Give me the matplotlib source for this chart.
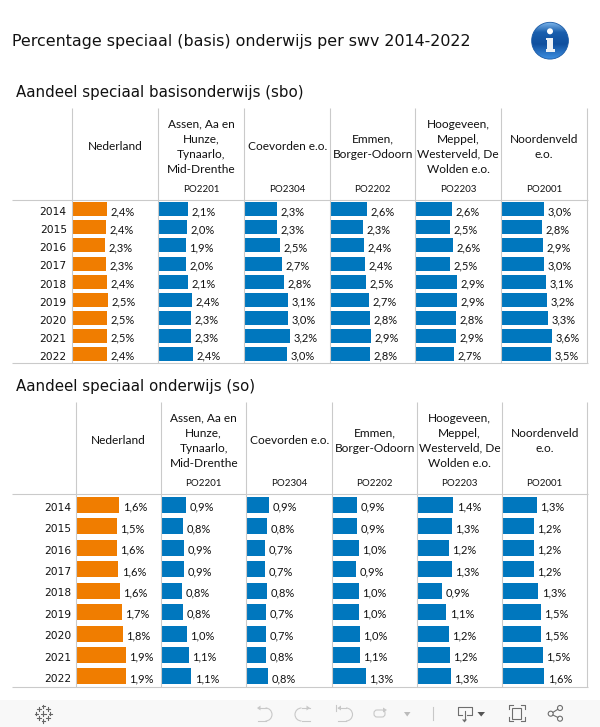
import numpy as np
import matplotlib
matplotlib.use("Agg")
import matplotlib.pyplot as plt
from matplotlib.patches import Circle, Rectangle, Polygon, Arc, FancyBboxPatch

W, H = 600, 727
years = ["2014", "2015", "2016", "2017", "2018", "2019", "2020", "2021", "2022"]
columns = ["Nederland", "Assen, Aa en\nHunze,\nTynaarlo,\nMid-Drenthe", "Coevorden e.o.",
           "Emmen,\nBorger-Odoorn", "Hoogeveen,\nMeppel,\nWesterveld, De\nWolden e.o.", "Noordenveld\ne.o."]
codes = ["", "PO2201", "PO2304", "PO2202", "PO2203", "PO2001"]

# aandeel speciaal basisonderwijs (sbo)
sbo_nederland = [2.43, 2.36, 2.29, 2.36, 2.43, 2.50, 2.43, 2.43, 2.43]
sbo_assen = [2.07, 2.00, 1.93, 1.93, 2.07, 2.36, 2.29, 2.29, 2.43]
sbo_coevorden = [2.29, 2.29, 2.50, 2.64, 2.79, 3.07, 3.07, 3.21, 3.00]
sbo_emmen = [2.57, 2.29, 2.36, 2.43, 2.50, 2.71, 2.79, 2.86, 2.79]
sbo_hoogeveen = [2.57, 2.43, 2.64, 2.43, 2.93, 2.93, 2.86, 2.86, 2.71]
sbo_noordenveld = [3.00, 2.86, 2.93, 3.00, 3.14, 3.21, 3.29, 3.57, 3.50]
sbo_labels = [
    ["2,4%", "2,4%", "2,3%", "2,3%", "2,4%", "2,5%", "2,5%", "2,5%", "2,4%"],
    ["2,1%", "2,0%", "1,9%", "2,0%", "2,1%", "2,4%", "2,3%", "2,3%", "2,4%"],
    ["2,3%", "2,3%", "2,5%", "2,7%", "2,8%", "3,1%", "3,0%", "3,2%", "3,0%"],
    ["2,6%", "2,3%", "2,4%", "2,4%", "2,5%", "2,7%", "2,8%", "2,9%", "2,8%"],
    ["2,6%", "2,5%", "2,6%", "2,5%", "2,9%", "2,9%", "2,8%", "2,9%", "2,7%"],
    ["3,0%", "2,8%", "2,9%", "3,0%", "3,1%", "3,2%", "3,3%", "3,6%", "3,5%"],
]

# aandeel speciaal onderwijs (so)
so_nederland = [1.62, 1.54, 1.54, 1.58, 1.65, 1.73, 1.77, 1.88, 1.88]
so_assen = [0.92, 0.81, 0.85, 0.85, 0.77, 0.81, 0.96, 1.04, 1.12]
so_coevorden = [0.85, 0.77, 0.69, 0.69, 0.77, 0.73, 0.73, 0.73, 0.81]
so_emmen = [0.92, 0.92, 1.00, 0.88, 1.00, 1.00, 1.04, 1.04, 1.27]
so_hoogeveen = [1.35, 1.31, 1.19, 1.31, 0.92, 1.08, 1.19, 1.23, 1.27]
so_noordenveld = [1.31, 1.19, 1.19, 1.19, 1.35, 1.46, 1.46, 1.54, 1.58]
so_labels = [
    ["1,6%", "1,5%", "1,6%", "1,6%", "1,6%", "1,7%", "1,8%", "1,9%", "1,9%"],
    ["0,9%", "0,8%", "0,9%", "0,9%", "0,8%", "0,8%", "1,0%", "1,1%", "1,1%"],
    ["0,9%", "0,8%", "0,7%", "0,7%", "0,8%", "0,7%", "0,7%", "0,8%", "0,8%"],
    ["0,9%", "0,9%", "1,0%", "0,9%", "1,0%", "1,0%", "1,0%", "1,1%", "1,3%"],
    ["1,4%", "1,3%", "1,2%", "1,3%", "0,9%", "1,1%", "1,2%", "1,2%", "1,3%"],
    ["1,3%", "1,2%", "1,2%", "1,2%", "1,3%", "1,5%", "1,5%", "1,5%", "1,6%"],
]

ORANGE, BLUE, RULE, TXT = "#F07D00", "#0077BE", "#CACACA", "#111111"
CELL = ["Lato"]
TITLE = ["DejaVu Sans"]

fig = plt.figure(figsize=(W / 100, H / 100), dpi=100, facecolor="white")
ov = fig.add_axes([0, 0, 1, 1], zorder=5)
ov.set_xlim(0, W); ov.set_ylim(H, 0); ov.axis("off"); ov.patch.set_alpha(0)


def section(title, title_y, series, labels, vx, top, head, bottom, px_per, year_x, hl, po_y, bar_h):
    ov.text(16, title_y, title, family=TITLE, fontsize=10.85, color="#111111", va="center", ha="left")
    for x in vx:
        ov.plot([x, x], [top, bottom], color=RULE, lw=.8, solid_capstyle="butt")
    for y in (head, bottom):
        ov.plot([12, vx[-1] + 0.5], [y, y], color=RULE, lw=.8, solid_capstyle="butt")
    n = len(years)
    pitch = (bottom - head) / n
    for i, yr in enumerate(years):
        ov.text(year_x, head + (i + .5) * pitch + 2.8, yr, family=TITLE, fontsize=7.7,
                color=TXT, ha="right", va="center")
    for c, (vals, labs) in enumerate(zip(series, labels)):
        x0, x1 = vx[c] + 0.7, vx[c + 1] + 0.7
        ax = fig.add_axes([x0 / W, 1 - bottom / H, (x1 - x0) / W, (bottom - head) / H], zorder=3)
        ax.set_xlim(0, (x1 - x0) / px_per); ax.set_ylim(n - .5, -.5); ax.axis("off")
        ax.barh(range(n), vals, height=bar_h, color=ORANGE if c == 0 else BLUE)
        for i, (v, l) in enumerate(zip(vals, labs)):
            ax.annotate(l, (v, i), xytext=(3.6 * .72, -2.2 * .72), textcoords="offset points",
                        family=CELL, fontsize=8.0, color=TXT, va="center", ha="left")
        cx = (vx[c] + vx[c + 1]) / 2
        lines = columns[c].split("\n")
        for j, line in enumerate(lines):
            ov.text(cx, hl + (j - (len(lines) - 1) / 2) * 15, line, family=CELL, fontsize=8.6,
                    color=TXT, ha="center", va="center")
        if codes[c]:
            ov.text(cx, po_y, codes[c], family=CELL, fontsize=7.0, color=TXT, ha="center", va="center")


ov.text(12, 41.7, "Percentage speciaal (basis) onderwijs per swv 2014-2022", family=TITLE,
        fontsize=11.4, color="#111111", va="center", ha="left")

section("Aandeel speciaal basisonderwijs (sbo)", 92.5,
        [sbo_nederland, sbo_assen, sbo_coevorden, sbo_emmen, sbo_hoogeveen, sbo_noordenveld], sbo_labels,
        [72.2, 158.2, 244.2, 330.2, 415.2, 501.2, 587.2], 108, 200.2, 363.2, 14, 66.7, 146.7, 189.7, .773)
section("Aandeel speciaal onderwijs (so)", 386.5,
        [so_nederland, so_assen, so_coevorden, so_emmen, so_hoogeveen, so_noordenveld], so_labels,
        [76.2, 161.2, 246.2, 332.2, 417.2, 502.2, 587.2], 402, 494.2, 687.2, 26, 71, 440.8, 483.7, .747)

# info icon
cx, cy, r = 550, 40.7, 18.4
yy, xx = np.mgrid[-1:1:160j, -1:1:160j]
stops = [-1, -.45, .2, 1]
rgb = np.dstack([np.interp(yy, stops, s) for s in
                 ([.50, .10, .06, .24], [.72, .37, .31, .56], [.92, .68, .62, .88])])
im = ov.imshow(rgb, extent=(cx - r, cx + r, cy + r, cy - r), zorder=4, interpolation="bilinear", aspect="auto")
im.set_clip_path(Circle((cx, cy), r, transform=ov.transData))
ov.set_xlim(0, W); ov.set_ylim(H, 0)
ov.add_patch(Circle((cx, cy), r, fc="none", ec="#1A5AA6", lw=.6, zorder=5))
ov.add_patch(Circle((cx, 31.3), 3.0, fc="white", ec="none", zorder=6))
ov.add_patch(Polygon([(546, 37.5), (553.2, 37.5), (553.2, 48.5), (555, 48.5), (555, 51.5), (545.5, 51.5), (545.5, 48.5),
                      (547.3, 48.5), (547.3, 40.3), (546, 40.3)], fc="#EEF2F6", ec="none", zorder=6))

# toolbar
ov.add_patch(Rectangle((0, 700), W, 27, fc="#F8F8F8", ec="none", zorder=1))
TB, TD = "#C8C8C8", "#6E6E6E"
for dx, dy, s in [(0, 0, 5), (-7, 0, 3.4), (7, 0, 3.4), (0, -7.3, 3.4), (0, 7.3, 3.4), (-4.3, -4.7, 4), (4.3, -4.7, 4),
                  (-4.3, 4.7, 4), (4.3, 4.7, 4)]:
    ov.plot([43.4 + dx - s / 2, 43.4 + dx + s / 2], [713.7 + dy, 713.7 + dy], color="#666666", lw=.8, zorder=6)
    ov.plot([43.4 + dx, 43.4 + dx], [713.7 + dy - s / 2, 713.7 + dy + s / 2], color="#666666", lw=.8, zorder=6)


def undo(x, flip=1, extra=False):
    ov.plot([x - 7 * flip, x + 1 * flip], [708, 708], color=TB, lw=.8, zorder=6)
    ov.plot([x - 7 * flip, x + 1 * flip], [721, 721], color=TB, lw=.8, zorder=6)
    ov.add_patch(Arc((x + 1 * flip, 714.5), 13, 13, theta1=-90 if flip > 0 else 90, theta2=90 if flip > 0 else 270,
                     color=TB, lw=.8, zorder=6))
    ov.add_patch(Polygon([(x - 7.5 * flip, 708), (x - 4 * flip, 705.5), (x - 4 * flip, 710.5)], fc=TB, ec="none", zorder=6))
    if extra:
        ov.plot([x - 9 * flip] * 2, [705, 711], color=TB, lw=.8, zorder=6)


undo(264.5); undo(302.5, -1); undo(345, 1, True)
ov.add_patch(FancyBboxPatch((374, 710), 11, 7, boxstyle="round,pad=0,rounding_size=3", fc="none", ec=TB, lw=.8, zorder=6))
ov.add_patch(Polygon([(387, 710), (383, 707.5), (383, 712.5)], fc=TB, ec="none", zorder=6))
ov.add_patch(Polygon([(404, 712), (410.5, 712), (407.2, 716.5)], fc="#BBBBBB", ec="none", zorder=6))
ov.plot([432.7, 432.7], [707, 720], color=TB, lw=.8, zorder=6)
ov.plot([462, 457.5, 457.5, 472, 472, 467], [715, 715, 706.5, 706.5, 715, 715], color=TD, lw=.8, zorder=6)
ov.plot([464.5, 464.5], [711, 720], color=TD, lw=.8, zorder=6)
ov.add_patch(Polygon([(462, 719.5), (467, 719.5), (464.5, 722.5)], fc=TD, ec="none", zorder=6))
ov.add_patch(Polygon([(477.5, 712), (485, 712), (481.2, 716.5)], fc="#555555", ec="none", zorder=6))
ov.add_patch(Rectangle((511.7, 708), 9.6, 10.5, fc="none", ec=TD, lw=.8, zorder=6))
for sx, sy in [(-1, -1), (1, -1), (-1, 1), (1, 1)]:
    ov.plot([516.5 + sx * 8, 516.5 + sx * 8, 516.5 + sx * 4], [713.2 + sy * 4, 713.2 + sy * 8, 713.2 + sy * 8],
            color=TD, lw=.8, zorder=6)
for px, py in [(550.7, 713.7), (560, 708), (560, 718.7)]:
    ov.add_patch(Circle((px, py), 2.5, fc="none", ec=TD, lw=.8, zorder=6))
ov.plot([557.8, 552.9], [709.3, 712.4], color=TD, lw=.8, zorder=6)
ov.plot([557.8, 552.9], [717.4, 715], color=TD, lw=.8, zorder=6)

fig.savefig("out.png", dpi=100, facecolor="white")
